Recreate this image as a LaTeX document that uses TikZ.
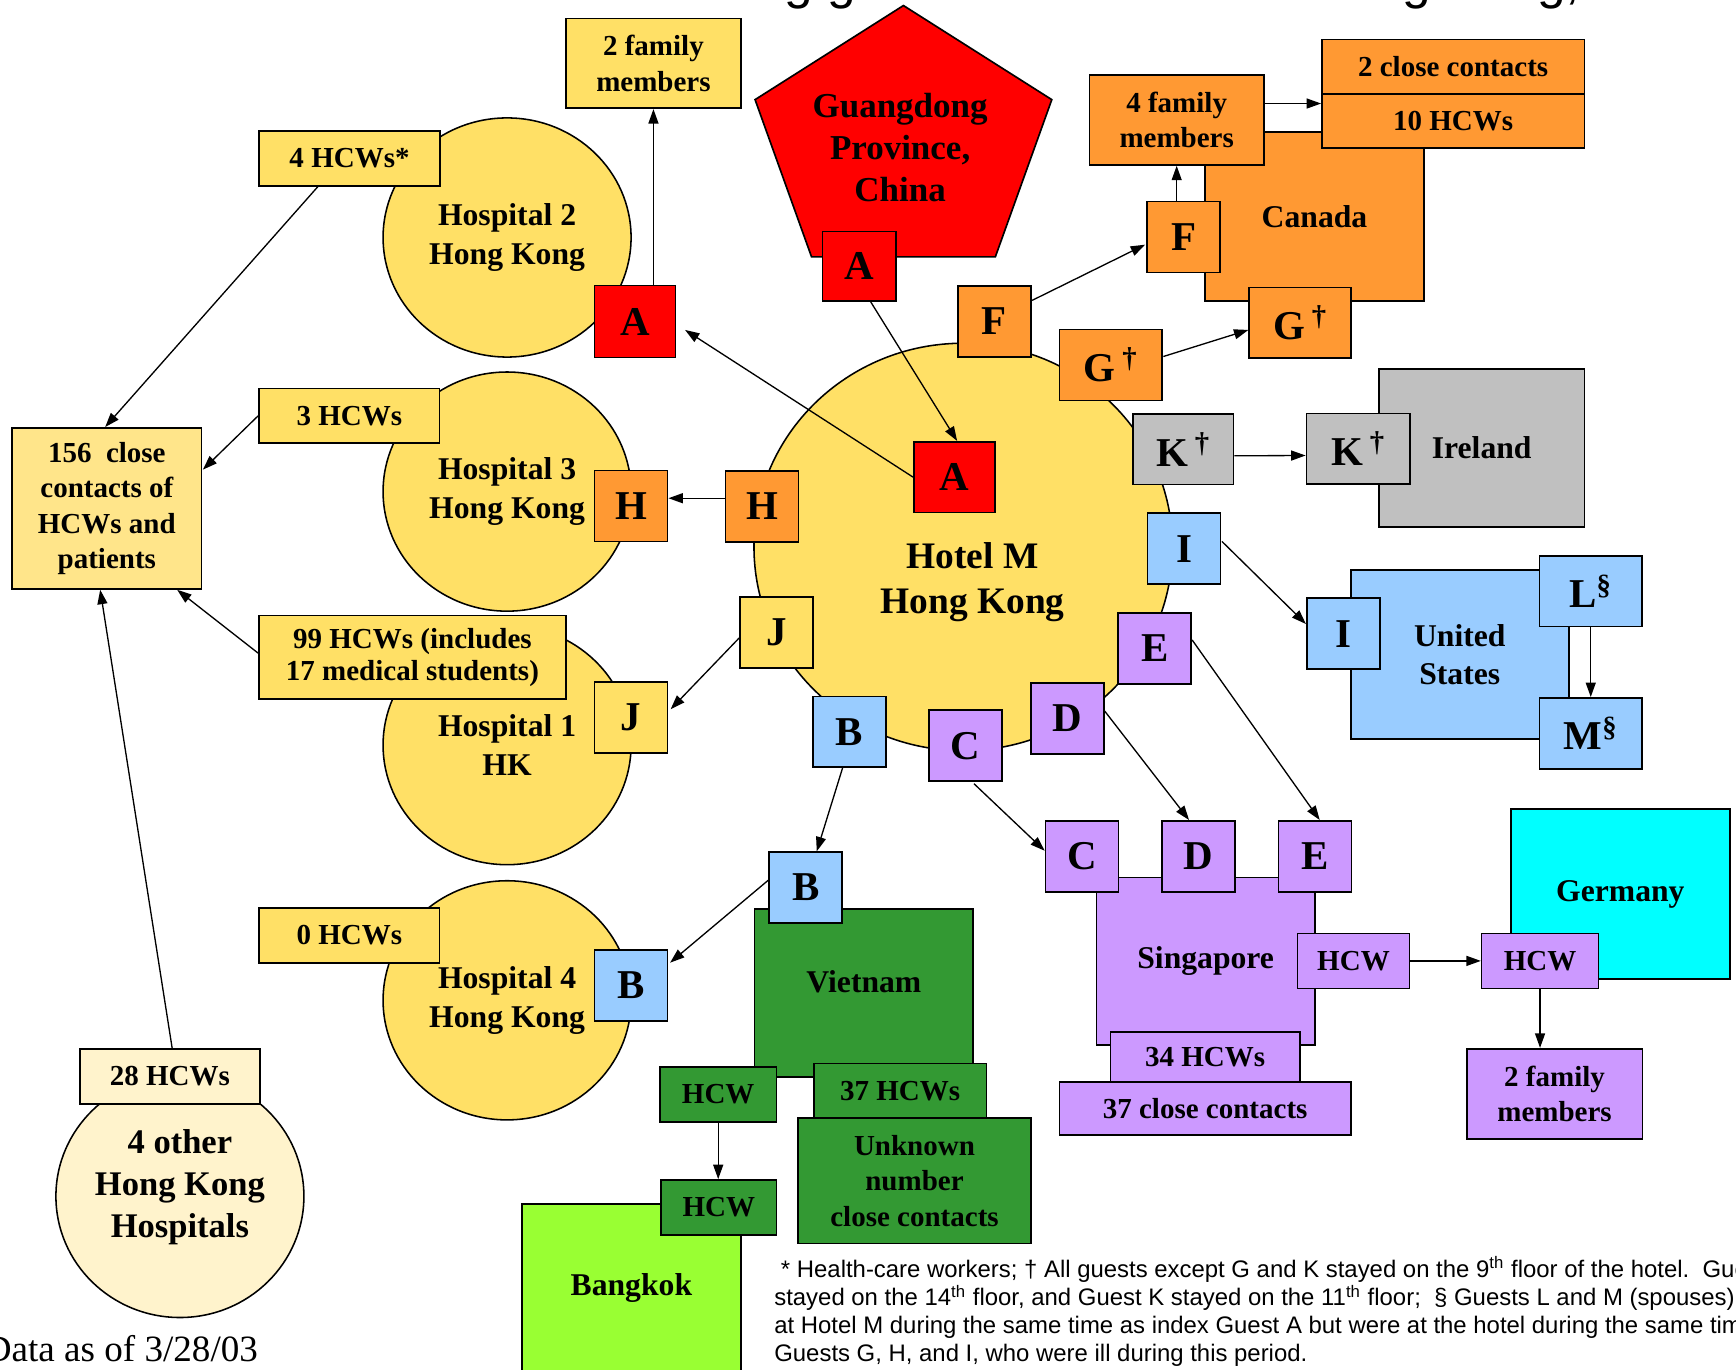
\documentclass[tikz,border=0pt]{standalone}
\usepackage{fontspec}
\setmainfont{Liberation Serif}
\newfontfamily\notesans{Liberation Sans}
\usepackage{tikz}
\usetikzlibrary{calc}
\usetikzlibrary{shapes.geometric, arrows.meta, positioning}

\definecolor{hkyellow}{HTML}{FFE066}
\definecolor{hkpale}{HTML}{FFF3CC}
\definecolor{ccyellow}{HTML}{FFE58A}
\definecolor{gdred}{HTML}{FF0000}
\definecolor{canorange}{HTML}{FF9933}
\definecolor{iregrey}{HTML}{C0C0C0}
\definecolor{usblue}{HTML}{99CCFF}
\definecolor{sglilac}{HTML}{CC99FF}
\definecolor{vngreen}{HTML}{339933}
\definecolor{bklime}{HTML}{99FF33}
\definecolor{decyan}{HTML}{00FFFF}

\newcommand{\fLetter}{\fontsize{18.5pt}{22pt}\selectfont\bfseries}
\newcommand{\fTag}{\fontsize{13.1pt}{16pt}\selectfont\bfseries}
\newcommand{\fPlace}{\fontsize{14.3pt}{17.5pt}\selectfont\bfseries}
\newcommand{\fHotel}{\fontsize{16.9pt}{20.5pt}\selectfont\bfseries}
\newcommand{\fGd}{\fontsize{15.8pt}{19pt}\selectfont\bfseries}
\newcommand{\fOther}{\fontsize{15.6pt}{19pt}\selectfont\bfseries}
\newcommand{\fDate}{\fontsize{16.75pt}{20pt}\selectfont}
\newcommand{\fNote}{\notesans\fontsize{10.8pt}{12.7pt}\selectfont}
\newcommand{\fTitle}{\notesans\fontsize{23.25pt}{28pt}\selectfont}

\begin{document}
\begin{tikzpicture}[
    x=0.5pt, y=-0.5pt,
    box/.style={draw, line width=0.75pt, rectangle, inner sep=0pt, align=center, font=\fTag},
    letter/.style={box, minimum width=33pt, minimum height=32pt, font=\fLetter},
    wideletter/.style={letter, minimum width=46.25pt},
    tag/.style={box, fill=hkyellow, minimum width=81.5pt, minimum height=24.75pt},
    hcw/.style={box, minimum width=52.75pt, minimum height=24.85pt},
    country/.style={box, minimum width=98.75pt, minimum height=76pt, font=\fPlace},
    hospital/.style={draw, line width=0.7pt, ellipse, fill=hkyellow, inner sep=0pt, minimum width=112pt, minimum height=108pt, align=center, font=\fPlace},
    arr/.style={-{Triangle[length=6.5pt, width=4.5pt]}, line width=0.6pt}
]
\useasboundingbox (0,0) rectangle (1568,1237);

% Title (cut by the top edge)
\node[anchor=base west, font=\fTitle, inner sep=0pt] (title) at (132,-1) {Chain of transmission among guests at Hotel M — Hong Kong, 2003};

% Hospitals in Hong Kong
\node[hospital] (hosp2) at (458,214.5) {Hospital 2\\Hong Kong};
\node[hospital] (hosp3) at (458,444) {Hospital 3\\Hong Kong};
\node[hospital] (hosp1) at (458,673) {Hospital 1\\HK};
\node[hospital] (hosp4) at (458,903.5) {Hospital 4\\Hong Kong};
\node[hospital, fill=hkpale, minimum height=109.5pt, label={[font=\fOther, align=center, yshift=4.25pt]center:4 other\\Hong Kong\\Hospitals}] (other4) at (162.5,1080.5) {};

% Hotel M
\node[hospital, minimum width=189pt, minimum height=184pt] (hotel) at (870,494) {};
\node[font=\fHotel, align=center] (hotelTxt) at (878.5,526) {Hotel M\\Hong Kong};

% Guangdong
\draw[line width=0.75pt, fill=gdred] (816,5) -- (950,90) -- (899,232) -- (733,232) -- (682,90) -- cycle;
\node[font=\fGd, align=center] (gdTxt) at (813,133) {Guangdong\\Province,\\China};

% Countries
\node[country, fill=canorange, minimum width=98.7pt, minimum height=76.3pt] (canada) at (1187.3,195.3) {Canada};
\node[country, fill=iregrey, minimum width=92.7pt, minimum height=71.2pt] (ire) at (1338.3,404.5) {Ireland};
\node[country, fill=usblue, minimum width=98.5pt, minimum height=76.3pt] (us) at (1318.5,591.3) {United\\States};
\node[country, fill=sglilac, minimum width=98.5pt, minimum height=75.75pt] (sg) at (1089,868.3) {Singapore};
\node[country, fill=decyan, minimum width=98.85pt, minimum height=76.8pt] (de) at (1463.5,807.5) {Germany};
\node[country, fill=vngreen, label={[font=\fPlace, yshift=5pt]center:Vietnam}] (vn) at (780.3,897) {};
\node[country, fill=bklime, minimum width=98.7pt] (bk) at (570.3,1163.5) {Bangkok};

% Hong Kong contacts
\node[box, fill=hkyellow, minimum width=79.25pt, minimum height=40.6pt] (fam2) at (590.2,57.2) {2 family\\members};
\node[tag] (hcw4) at (315.7,143.2) {4 HCWs*};
\node[tag, minimum height=24.5pt] (hcw3) at (315.5,375.5) {3 HCWs};
\node[tag, minimum width=138.5pt, minimum height=37.75pt, font={\fontsize{13.1pt}{14.5pt}\selectfont\bfseries}] (hcw99) at (372.5,593.7) {99 HCWs (includes\\17 medical students)};
\node[tag, minimum height=25pt] (hcw0) at (315.5,845) {0 HCWs};
\node[tag, fill=hkpale] (hcw28) at (153.5,972.2) {28 HCWs};
\node[box, fill=ccyellow, minimum width=85.5pt, minimum height=72.75pt] (cc156) at (96.5,459.2) {156\ \ close\\contacts of\\HCWs and\\patients};

% Guests at the hotel
\foreach \n/\x/\y/\w/\c/\t in {
    A/862/431/36.5/gdred/A,
    F/898/290.3/33/canorange/F,
    G/1003.3/329.7/46.25/canorange/{G\,\textsuperscript{†}},
    K/1068.8/405.7/45.25/iregrey/{K\,\textsuperscript{†}},
    I/1069.5/495.5/33/usblue/I,
    E/1043/585.5/33/sglilac/E,
    D/964/649/33/sglilac/D,
    C/872.2/673.5/33/sglilac/C,
    B/767.3/661/33/usblue/B,
    H/688.2/457.5/33/canorange/H,
    J/701.3/571.3/33/hkyellow/J} {
    \node[letter, minimum width=\w pt, fill=\c] (hot\n) at (\x,\y) {\t};
}

% Guests elsewhere
\node[letter, fill=gdred, minimum height=31.5pt] (gdA) at (776,240.5) {A};
\node[letter, fill=gdred, minimum width=36.5pt, minimum height=32.5pt] (h2A) at (573.5,290.5) {A};
\node[letter, fill=canorange] (h3H) at (570,457) {H};
\node[letter, fill=hkyellow] (h1J) at (570,648) {J};
\node[letter, fill=usblue] (h4B) at (570,890) {B};
\node[letter, fill=canorange] (canF) at (1069,214) {F};
\node[wideletter, fill=canorange, minimum width=46pt] (canG) at (1174.3,291.6) {G\,\textsuperscript{†}};
\node[wideletter, fill=iregrey, minimum width=46.7pt] (ireK) at (1226.7,405.4) {K\,\textsuperscript{†}};
\node[letter, fill=usblue] (usI) at (1213.3,572.4) {I};
\node[wideletter, fill=usblue, minimum width=46.2pt] (usL) at (1436.8,534) {L\textsuperscript{§}};
\node[wideletter, fill=usblue, minimum width=46.2pt] (usM) at (1436.8,662.3) {M\textsuperscript{§}};
\node[letter, fill=sglilac] (sgC) at (977.3,773.4) {C};
\node[letter, fill=sglilac] (sgD) at (1082.3,773.4) {D};
\node[letter, fill=sglilac] (sgE) at (1187.7,773.4) {E};
\node[letter, fill=usblue] (vnB) at (727.7,801.7) {B};

% Contacts abroad
\node[box, fill=canorange, minimum width=78.8pt, minimum height=40.5pt] (canFam) at (1062.8,108.5) {4 family\\members};
\node[box, fill=canorange, minimum width=118.5pt, minimum height=24.75pt] (canCC) at (1312.5,60.3) {2 close contacts};
\node[box, fill=canorange, minimum width=118.5pt, minimum height=24.2pt] (canHCW) at (1312.5,109.2) {10 HCWs};
\node[hcw, fill=sglilac, minimum width=50.5pt] (sgHCW) at (1222.5,867.9) {HCW};
\node[box, fill=sglilac, minimum width=85.5pt, minimum height=22.5pt] (sg34) at (1088.5,954.5) {34 HCWs};
\node[box, fill=sglilac, minimum width=131.5pt, minimum height=24pt] (sg37) at (1088.5,1001) {37 close contacts};
\node[hcw, fill=sglilac] (deHCW) at (1391,867.9) {HCW};
\node[box, fill=sglilac, minimum width=79.3pt, minimum height=40.9pt] (deFam) at (1404.1,988.1) {2 family\\members};
\node[hcw, fill=vngreen] (vnHCW) at (648.7,988.6) {HCW};
\node[box, fill=vngreen, minimum width=78pt, minimum height=24.75pt] (vn37) at (813,985.2) {37 HCWs};
\node[box, fill=vngreen, minimum width=105pt, minimum height=56.5pt] (vnUnk) at (826,1066.5) {Unknown\\number\\close contacts};
\node[hcw, fill=vngreen, minimum width=52.25pt] (bkHCW) at (649.2,1090.6) {HCW};

% Transmission arrows
\draw[arr] (h2A.north -| fam2.south) -- (fam2.south);
\draw[arr] (hotA.west) -- ($(h2A.east)+(8,7.5)$);
\draw[arr] ($(gdA.south)+(10.5,0)$) -- ($(hotA.north)+(2.5,0)$);
\draw[arr] ($(hcw4.south)+(-28.7,0)$) -- ($(cc156.north)+(-1.5,0)$);
\draw[arr] (hcw3.west) -- ($(cc156.east)+(0.5,-35)$);
\draw[arr] ($(hcw99.west)+(0,-3.7)$) -- ($(cc156.south)+(63.5,0)$);
\draw[arr] ($(hcw28.north)+(2,0)$) -- ($(cc156.south)+(-6,0)$);
\draw[arr] ($(hotH.west)+(0,-7.5)$) -- ($(h3H.east)+(0,-7)$);
\draw[arr] ($(hotJ.west)+(0,5)$) -- ($(h1J.east)+(2,-7.4)$);
\draw[arr] ($(hotB.south)+(-6.3,0)$) -- ($(vnB.north)+(10,0)$);
\draw[arr] ($(vnB.west)+(0,-6.7)$) -- ($(h4B.east)+(1.5,-20.5)$);
\draw[arr] (vnHCW.south) -- (vnHCW.south |- bkHCW.north);
\draw[arr] ($(hotF.east)+(0.5,-19)$) -- ($(canF.west)+(-1,7)$);
\draw[arr] (canFam.south |- canF.north) -- (canFam.south);
\draw[arr] ($(canFam.east)+(0,-15)$) -- ($(canFam.east -| canHCW.west)+(0,-15)$);
\draw[arr] ($(hotG.east)+(0.5,-7.7)$) -- ($(canG.west)+(0,6.4)$);
\draw[arr] ($(hotK.east)+(0,6)$) -- ($(ireK.west)+(0,6)$);
\draw[arr] ($(hotI.east)+(0.4,-6.5)$) -- ($(usI.west)+(0,-8.8)$);
\draw[arr] (usL.south) -- (usM.north);
\draw[arr] ($(hotC.south)+(7.5,1.6)$) -- ($(sgC.west)+(0,-5)$);
\draw[arr] ($(hotD.east)+(0,-6.8)$) -- ($(sgD.north)+(-8.3,0)$);
\draw[arr] ($(hotE.east)+(0,-7.5)$) -- ($(sgE.north)+(4.3,0)$);
\draw[arr] (sgHCW.east) -- (deHCW.west);
\draw[arr] (deHCW.south) -- (deHCW.south |- deFam.north);

% Date and footnote
\node[anchor=base west, font=\fDate, inner sep=0pt] (date) at (-14,1230) {Data as of 3/28/03};
\node[anchor=base west, font=\fNote, inner sep=0pt] (note1) at (699,1154) {\hspace*{3pt}* Health-care workers; † All guests except G and K stayed on the 9\textsuperscript{th} floor of the hotel.\ \ Guest G};
\node[anchor=base west, font=\fNote, inner sep=0pt] (note2) at (699,1179.5) {stayed on the 14\textsuperscript{th} floor, and Guest K stayed on the 11\textsuperscript{th} floor;\ \ § Guests L and M (spouses) were not};
\node[anchor=base west, font=\fNote, inner sep=0pt] (note3) at (699,1204.5) {at Hotel M during the same time as index Guest A but were at the hotel during the same time as};
\node[anchor=base west, font=\fNote, inner sep=0pt] (note4) at (699,1230) {Guests G, H, and I, who were ill during this period.};
\end{tikzpicture}
\end{document}
